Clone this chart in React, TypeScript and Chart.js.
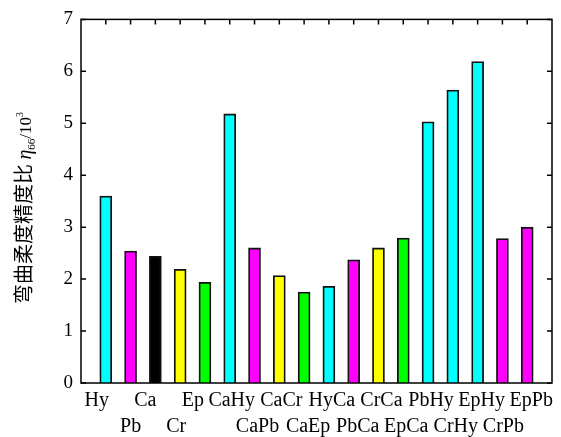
import React, { useEffect, useRef } from "react";
import { Chart, registerables } from "chart.js";

Chart.register(...registerables);

const categories = ["Hy", "Pb", "Ca", "Cr", "Ep", "CaHy", "CaPb", "CaCr", "CaEp", "HyCa", "PbCa", "CrCa", "EpCa", "PbHy", "CrHy", "EpHy", "CrPb", "EpPb"];
const values = [3.6, 2.54, 2.44, 2.19, 1.94, 5.18, 2.6, 2.07, 1.75, 1.86, 2.37, 2.6, 2.79, 5.03, 5.64, 6.19, 2.78, 3.0];
const barColors = ["#00ffff", "#ff00ff", "#000000", "#ffff00", "#00ff00", "#00ffff", "#ff00ff", "#ffff00", "#00ff00", "#00ffff", "#ff00ff", "#ffff00", "#00ff00", "#00ffff", "#00ffff", "#00ffff", "#ff00ff", "#ff00ff"];
// 0 = upper label row, 1 = lower label row
const labelRows = [0, 1, 0, 1, 0, 0, 1, 0, 1, 0, 1, 0, 1, 0, 1, 0, 1, 0];
const yTicks = [0, 1, 2, 3, 4, 5, 6, 7];

// layout: horizontal nudges (px) of the category labels relative to their bars
const LABEL_NUDGE = [-9, 0, -10, -4, -12, 2, 3, 2, 4, 3, 4, 3, 3, 3, 3, 4, 1, 4];

const SERIF = "'Liberation Serif', 'Times New Roman', serif";

const framePlugin = {
  id: "frame",
  afterDraw(chart: any) {
    const { ctx, chartArea } = chart;
    const { left, right, top, bottom } = chartArea;
    const xs = chart.scales.x;
    const ys = chart.scales.y;
    ctx.save();
    ctx.strokeStyle = "#000";
    ctx.lineWidth = 1.5;
    ctx.strokeRect(left, top, right - left, bottom - top);
    ctx.beginPath();
    const tl = 5;
    yTicks.forEach((v) => {
      const py = ys.getPixelForValue(v);
      ctx.moveTo(left, py);
      ctx.lineTo(left + tl, py);
      ctx.moveTo(right, py);
      ctx.lineTo(right - tl, py);
    });
    categories.forEach((_, i) => {
      const px = xs.getPixelForValue(i + 1);
      ctx.moveTo(px, top);
      ctx.lineTo(px, top + tl);
    });
    ctx.stroke();

    // category labels in two rows
    ctx.fillStyle = "#000";
    ctx.font = "20px " + SERIF;
    ctx.textAlign = "center";
    ctx.textBaseline = "alphabetic";
    categories.forEach((c, i) => {
      const px = xs.getPixelForValue(i + 1) + LABEL_NUDGE[i];
      const py = bottom + (labelRows[i] === 0 ? 23 : 49);
      ctx.fillText(c, px, py);
    });

    // y-axis title
    const cx = 24;
    const cy = 208;
    const parts = [
      { t: "弯曲柔度精度比 ", f: "20px 'Noto Sans CJK SC'", dy: 0 },
      { t: "η", f: "italic 20px " + SERIF, dy: 0 },
      { t: "66", f: "11px " + SERIF, dy: 4 },
      { t: "/10", f: "17px " + SERIF, dy: 0 },
      { t: "3", f: "10px " + SERIF, dy: -8 },
    ];
    let total = 0;
    const widths = parts.map((p) => {
      ctx.font = p.f;
      const w = ctx.measureText(p.t).width;
      total += w;
      return w;
    });
    ctx.translate(cx, cy);
    ctx.rotate(-Math.PI / 2);
    ctx.textAlign = "left";
    let x = -total / 2;
    parts.forEach((p, i) => {
      ctx.font = p.f;
      ctx.fillText(p.t, x, 7 + p.dy);
      x += widths[i];
    });
    ctx.restore();
  },
};

export default function App() {
  const ref = useRef<HTMLCanvasElement>(null);
  useEffect(() => {
    if (!ref.current) return;
    const labels = ["", ...categories, ""];
    const chart = new Chart(ref.current, {
      type: "bar",
      data: {
        labels,
        datasets: [
          {
            data: [null, ...values, null] as any,
            backgroundColor: ["#fff", ...barColors, "#fff"],
            borderColor: "#111",
            borderWidth: 1.8,
            barThickness: 12,
          },
        ],
      },
      options: {
        responsive: false,
        animation: false,
        events: [],
        layout: { padding: { top: 14, right: 9, left: 0, bottom: 0 } },
        plugins: { legend: { display: false }, tooltip: { enabled: false } },
        scales: {
          x: {
            offset: false,
            grid: { display: false, drawTicks: false },
            border: { display: false },
            afterFit(scale: any) {
              scale.height = 54;
            },
            ticks: { display: false, autoSkip: false },
          },
          y: {
            min: 0,
            max: 7,
            grid: { display: false, drawTicks: false },
            border: { display: false },
            afterFit(scale: any) {
              scale.width = 81;
            },
            ticks: {
              stepSize: 1,
              padding: 8,
              color: "#000",
              font: { family: SERIF, size: 19 },
            },
          },
        },
      },
      plugins: [framePlugin],
    });
    return () => chart.destroy();
  }, []);
  return (
    <div style={{ position: "fixed", left: 0, top: 0, width: 561, height: 437, background: "#fff" }}>
      <canvas ref={ref} width={561} height={437} />
    </div>
  );
}
